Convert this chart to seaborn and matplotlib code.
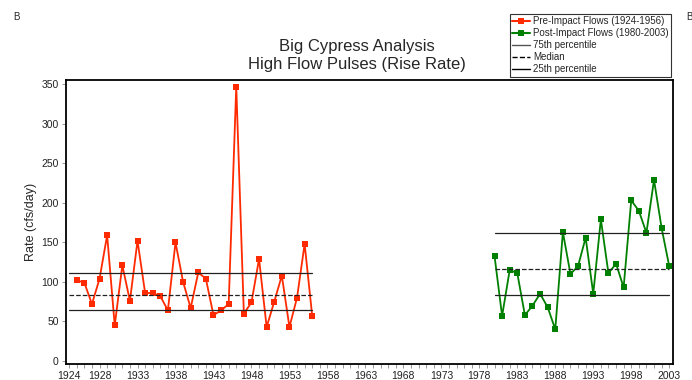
import numpy as np
import pandas as pd
import matplotlib
matplotlib.use("Agg")
import matplotlib.pyplot as plt
from matplotlib.lines import Line2D
import seaborn as sns

# Annual rise-rate values (cfs/day)
pre_years = list(range(1925, 1957))
pre_values = [102, 99, 72, 104, 159, 45, 121, 76, 152, 86, 86, 82, 64, 150, 100, 67,
              112, 104, 58, 64, 72, 347, 60, 74, 129, 43, 75, 108, 43, 80, 148, 57]
post_years = list(range(1980, 2004))
post_values = [133, 57, 115, 111, 58, 70, 85, 68, 40, 163, 110, 120, 156, 85, 179, 111,
               123, 93, 203, 190, 162, 229, 168, 120]

# Percentile reference lines: [25th, median, 75th] and the years they span
pre_pct = [65, 83, 111]
pre_span = [1924, 1956]
post_pct = [84, 116, 162]
post_span = [1980, 2003]

x_labels = [1924] + list(range(1928, 2004, 5))
y_ticks = list(range(0, 351, 50))

pre_label = "Pre-Impact Flows (1924-1956)"
post_label = "Post-Impact Flows (1980-2003)"
red = "#ff2a00"
green = "#008000"

df = pd.DataFrame({
    "year": pre_years + post_years,
    "rate": pre_values + post_values,
    "series": [pre_label] * len(pre_years) + [post_label] * len(post_years),
})

sns.set_style("white")
plt.rcParams["font.family"] = ["Liberation Sans", "DejaVu Sans"]

fig = plt.figure(figsize=(6.92, 3.80), dpi=100)
ax = fig.add_axes([0.095, 0.042, 0.877, 0.747])

sns.lineplot(data=df, x="year", y="rate", hue="series",
             palette={pre_label: red, post_label: green},
             marker="s", markersize=5, markeredgewidth=0, linewidth=1.3,
             legend=False, ax=ax)

for pct, span in ((pre_pct, pre_span), (post_pct, post_span)):
    for val, ls in zip(pct, ["-", "--", "-"]):
        sns.lineplot(x=span, y=[val, val], color="#222222", linewidth=0.9,
                     linestyle=ls, ax=ax)

ax.set_xlim(1923.55, 2003.45)
ax.set_ylim(-3.8, 355)
ax.set_xticks(x_labels)
ax.set_xticklabels([str(v) for v in x_labels], fontsize=7.5, color="#222222")
ax.set_xticks(range(1924, 2004), minor=True)
ax.set_yticks(y_ticks)
ax.set_yticklabels([str(v) for v in y_ticks], fontsize=7.5, color="#222222")
ax.tick_params(axis="both", which="major", length=3, width=0.6, color="#888888", pad=2)
ax.tick_params(axis="x", which="minor", bottom=True, length=3, width=0.6, color="#888888")
ax.tick_params(axis="x", which="major", bottom=True)
ax.tick_params(axis="y", which="both", left=True)
ax.set_xlabel("")
ax.set_ylabel("Rate (cfs/day)", fontsize=9, labelpad=3)
for side in ax.spines.values():
    side.set_color("black")
    side.set_linewidth(1.3)

fig.text(0.516, 0.855, "Big Cypress Analysis\nHigh Flow Pulses (Rise Rate)",
         ha="center", va="center", fontsize=12, linespacing=1.25)

handles = [
    Line2D([], [], color=red, marker="s", markersize=4, markeredgewidth=0, linewidth=1.5),
    Line2D([], [], color=green, marker="s", markersize=4, markeredgewidth=0, linewidth=1.5),
    Line2D([], [], color="#555555", linewidth=1),
    Line2D([], [], color="black", linewidth=1, linestyle="--"),
    Line2D([], [], color="black", linewidth=1),
]
labels = [pre_label, post_label, "75th percentile", "Median", "25th percentile"]
leg = fig.legend(handles, labels, loc="upper left", bbox_to_anchor=(0.737, 0.963),
                 fontsize=7, frameon=True, fancybox=False, borderpad=0.25,
                 labelspacing=0.2, handlelength=1.8, handletextpad=0.3,
                 borderaxespad=0)
leg.get_frame().set_edgecolor("black")
leg.get_frame().set_linewidth(0.8)

fig.text(0.024, 0.955, "B", fontsize=7, ha="center", va="center")
fig.text(0.996, 0.955, "B", fontsize=7, ha="center", va="center")

fig.savefig("out.png", dpi=100)
